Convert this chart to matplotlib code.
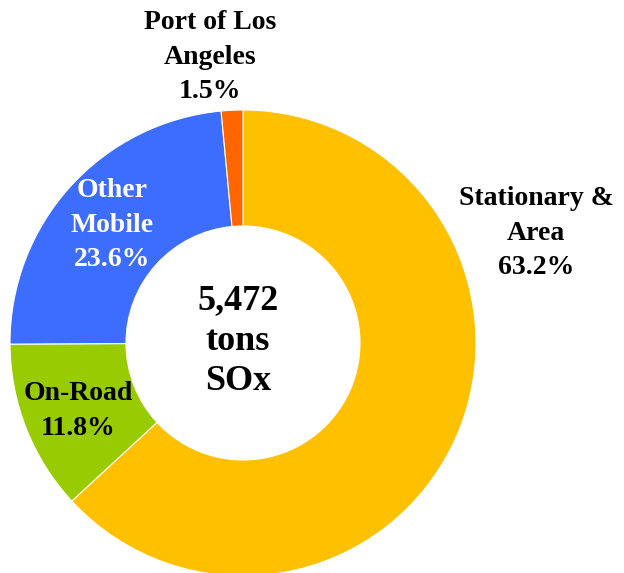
import matplotlib.pyplot as plt

categories = ['Stationary &\nArea', 'On-Road', 'Other\nMobile', 'Port of Los\nAngeles']
shares = [63.2, 11.8, 23.6, 1.5]
colors = ['#FFC000', '#99CC00', '#3D6DFF', '#FF6600']
total_text = '5,472\ntons\nSOx'

plt.rcParams['font.family'] = ['Liberation Serif', 'DejaVu Serif']

fig = plt.figure(figsize=(6.24, 5.73), dpi=100)
ax = fig.add_axes([0, 0, 1, 1])

ax.pie(shares, colors=colors, startangle=90, counterclock=False,
       center=(243, 230), radius=233,
       wedgeprops=dict(width=116, edgecolor='white', linewidth=0.8))
# pie resets the limits, so set them afterwards (pixel coords, y up)
ax.set_xlim(0, 624)
ax.set_ylim(0, 573)
ax.set_aspect('equal')
ax.axis('off')

label_pos = [(536, 340), (78, 162), (112, 348), (210, 516)]
label_col = ['black', 'black', 'white', 'black']
for name, val, (x, y), c in zip(categories, shares, label_pos, label_col):
    ax.text(x, y, f'{name}\n{val:.1f}%', ha='center', va='center',
            fontsize=20, fontweight='bold', color=c, linespacing=1.5)

ax.text(238, 232, total_text, ha='center', va='center', fontsize=26,
        fontweight='bold', linespacing=1.3)

fig.savefig('out.png', dpi=100)
